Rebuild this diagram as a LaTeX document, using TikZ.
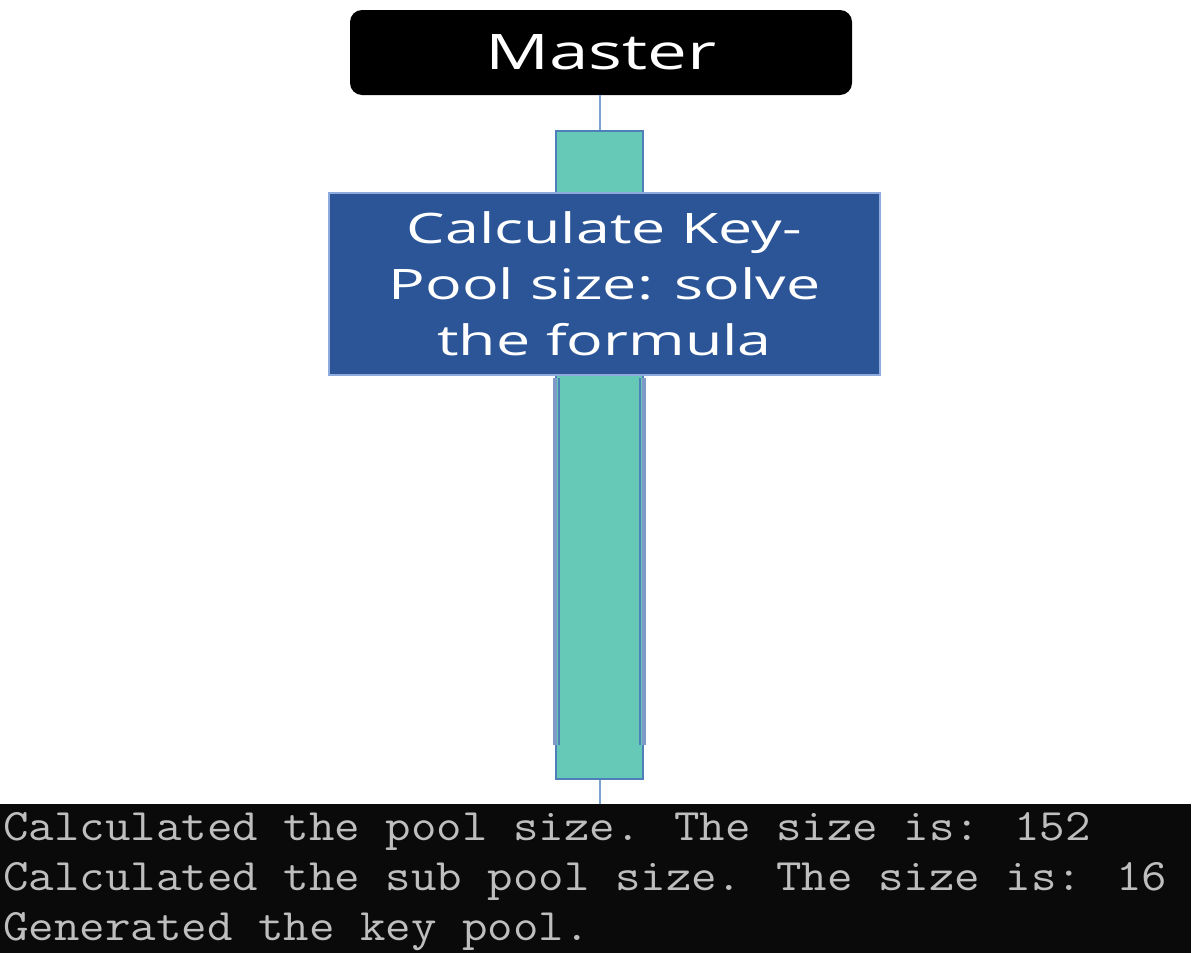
\documentclass[tikz,border=0pt]{standalone}
\usepackage{graphicx}
\usepackage{fontspec}
\setmainfont{Open Sans}
\definecolor{lineblue}{HTML}{7AA3D4}
\definecolor{tealfill}{HTML}{66C8B7}
\definecolor{barblue}{HTML}{4F7FB8}
\definecolor{boxblue}{HTML}{2C5597}
\definecolor{boxedge}{HTML}{8FAADC}
\definecolor{consolegray}{HTML}{BEBEBE}
\definecolor{sideblue}{HTML}{7E9AC6}
\definecolor{consoleblack}{HTML}{0A0A0A}
\newcommand\widetext[1]{\scalebox{1.45}[1]{#1}}
\newcommand\context[1]{\scalebox{1.1}[1]{#1}}
\begin{document}
\begin{tikzpicture}[x=1pt,y=-1pt,
  conn/.style={draw=lineblue,line width=2pt},
  barstyle/.style={fill=tealfill,draw=barblue,line width=2pt},
  masterbox/.style={fill=black,rounded corners=12pt,text=white,font=\fontsize{49}{56}\selectfont,
     minimum width=502pt,minimum height=85pt,inner sep=0pt},
  stepbox/.style={fill=boxblue,draw=boxedge,line width=1.5pt,text=white,align=center,
     font=\fontsize{42}{56}\selectfont,minimum width=551pt,minimum height=182pt,inner sep=0pt},
  consolebox/.style={fill=consoleblack,minimum width=1191pt,minimum height=149pt,inner sep=0pt,anchor=north west},
  consoletext/.style={text=consolegray,font=\ttfamily\fontsize{45}{50}\selectfont,anchor=base west,inner sep=0pt}]
\useasboundingbox (0,0) rectangle (1200,953);
\fill[white] (0,0) rectangle (1200,953);
% console
\node[consolebox] (console) at (0,804) {};
\node[consoletext] (l1) at (3,840) {\context{Calculated the pool size. The size is: 152}};
\node[consoletext] (l2) at (3,890) {\context{Calculated the sub pool size. The size is: 16}};
\node[consoletext] (l3) at (3,940) {\context{Generated the key pool.}};
% bar
\node[barstyle,minimum width=87pt,minimum height=648pt,inner sep=0pt,anchor=north] (bar) at (599.5,130) {};
\draw[sideblue,line width=4pt] (555,378) -- (555,745);
\draw[barblue,line width=2.5pt] (559,378) -- (559,745);
\draw[sideblue,line width=4pt] (644,378) -- (644,745);
\draw[barblue,line width=2.5pt] (640,378) -- (640,745);
% master
\node[masterbox] (master) at (601,52.5) {\widetext{Master}};
% step box
\node[stepbox] (calc) at (604.5,284) {\widetext{Calculate Key-}\\\widetext{Pool size: solve}\\\widetext{the formula}};
% connectors
\draw[conn] (master.south -| bar.north) -- (bar.north);
\draw[conn] (bar.south) -- (bar.south |- console.north);
\end{tikzpicture}
\end{document}
